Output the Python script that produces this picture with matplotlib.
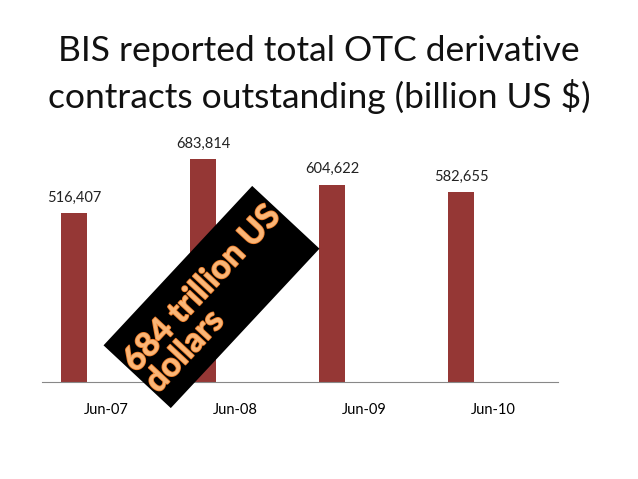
import matplotlib.pyplot as plt
import matplotlib.patheffects as pe
from matplotlib.patches import Rectangle
from matplotlib.transforms import Affine2D

plt.rcParams["font.family"] = ["Lato", "DejaVu Sans"]

# data
periods = ["Jun-07", "Jun-08", "Jun-09", "Jun-10"]
outstanding = [516407, 683814, 604622, 582655]
value_labels = ["516,407", "683,814", "604,622", "582,655"]

bar_color = "#953735"

fig = plt.figure(figsize=(6.38, 4.79), dpi=100)
ax = fig.add_axes([0.0658, 0.2025, 0.809, 0.545])

x = range(len(periods))
bx = [i - 0.25 for i in x]
ax.bar(bx, outstanding, width=0.2, color=bar_color)
for xi, v, lab in zip(bx, outstanding, value_labels):
    ax.annotate(lab, (xi, v), xytext=(0, 6), textcoords="offset points",
                ha="center", va="bottom", fontsize=10.5, color="#222222")

ax.set_xlim(-0.5, 3.5)
ax.set_ylim(0, 800000)
ax.set_xticks(list(x))
ax.set_xticklabels(periods, fontsize=10.5)
ax.tick_params(axis="x", length=0, pad=15)
ax.set_yticks([])
for s in ["top", "left", "right"]:
    ax.spines[s].set_visible(False)
ax.spines["bottom"].set_color("#888888")

# title
fig.text(0.5, 0.845, "BIS reported total OTC derivative\ncontracts outstanding (billion US $)",
         ha="center", va="center", fontsize=25.5, linespacing=1.42, color="#111111")

# rotated black callout
tr = Affine2D().rotate_deg(47).translate(2.115, 1.82) + fig.dpi_scale_trans
box = Rectangle((-1.09, -0.46), 2.18, 0.92, facecolor="black", edgecolor="none",
                transform=tr, zorder=5)
fig.add_artist(box)
fig.text(2.13 / 6.38, 1.80 / 4.79, "684 trillion US\ndollars", rotation=47,
         rotation_mode="anchor", ha="center", va="center", multialignment="left",
         fontsize=24, fontweight="bold", color="#FAB677", zorder=6, linespacing=1.05,
         path_effects=[pe.withStroke(linewidth=1.2, foreground="#EE7D2A")])

fig.savefig("out.png", dpi=100)
